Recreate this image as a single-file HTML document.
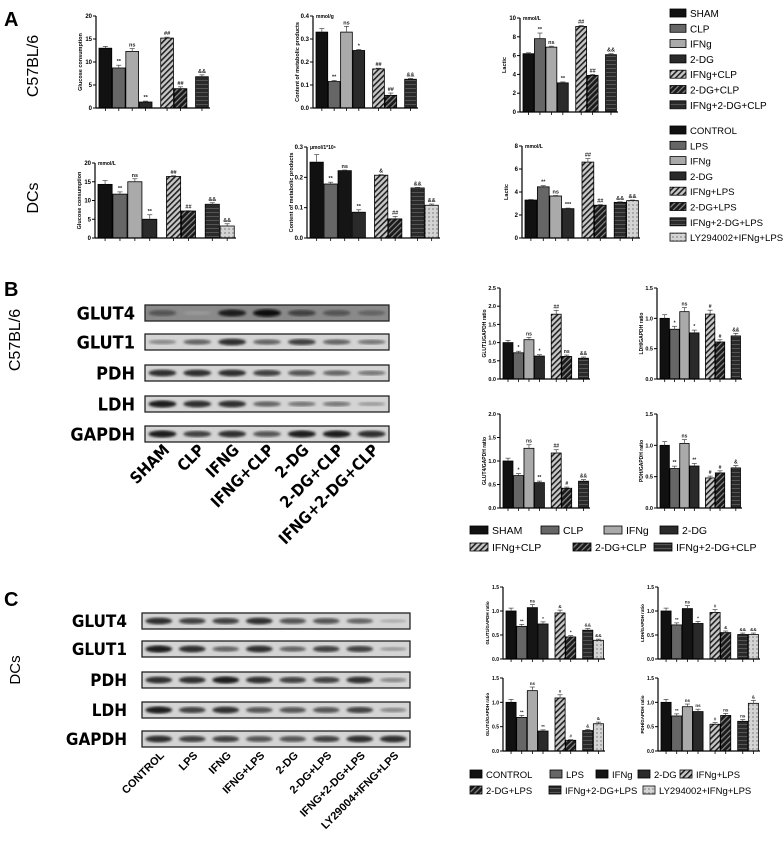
<!DOCTYPE html>
<html><head><meta charset="utf-8"><style>
html,body{margin:0;padding:0;background:#fff;}
svg{display:block;font-family:"Liberation Sans",sans-serif;}
</style></head><body>
<svg id="fig" width="784" height="848" viewBox="0 0 784 848">
<defs>
<pattern id="hL" patternUnits="userSpaceOnUse" width="4" height="4" patternTransform="rotate(45)"><rect width="4" height="4" fill="#c8c8c8"/><rect width="1.6" height="4" fill="#222"/></pattern>
<pattern id="hD" patternUnits="userSpaceOnUse" width="4" height="4" patternTransform="rotate(45)"><rect width="4" height="4" fill="#1a1a1a"/><rect width="1.2" height="4" fill="#888"/></pattern>
<pattern id="gD" patternUnits="userSpaceOnUse" width="4" height="4"><rect width="4" height="4" fill="#2a2a2a"/><rect width="4" height="1" fill="#555"/></pattern>
<pattern id="dL" patternUnits="userSpaceOnUse" width="4" height="4"><rect width="4" height="4" fill="#d4d4d4"/><rect width="2" height="2" fill="#aaa"/></pattern>
<filter id="blur"><feGaussianBlur stdDeviation="1.3"/></filter>
</defs>
<g id="root"></g>
</svg>
<script>
// ---------- data ----------
const c57Groups = ["SHAM","CLP","IFNg","2-DG","IFNg+CLP","2-DG+CLP","IFNg+2-DG+CLP"];
const dcGroups = ["CONTROL","LPS","IFNg","2-DG","IFNg+LPS","2-DG+LPS","IFNg+2-DG+LPS","LY294002+IFNg+LPS"];
const a1Values = [13.0, 8.7, 12.3, 1.3, 15.2, 4.2, 6.8];
const a1Err = [0.4, 0.6, 0.6, 0.2, 0.2, 0.4, 0.4];
const a1Sig = ["", "**", "ns", "**", "##", "##", "&&"];
const a1Ticks = [0, 5, 10, 15, 20];
const a2Values = [0.33, 0.115, 0.33, 0.25, 0.17, 0.055, 0.125];
const a2Err = [0.015, 0.005, 0.025, 0.005, 0.003, 0.01, 0.004];
const a2Sig = ["", "**", "ns", "*", "##", "##", "&&"];
const a2Ticks = [0, 0.1, 0.2, 0.3, 0.4];
const a3Values = [6.2, 7.8, 6.9, 3.1, 9.1, 3.9, 6.1];
const a3Err = [0.1, 0.6, 0.1, 0.1, 0.1, 0.1, 0.1];
const a3Sig = ["", "**", "ns", "**", "##", "##", "&&"];
const a3Ticks = [0, 2, 4, 6, 8, 10];
const a4Values = [14.3, 11.7, 15.0, 5.0, 16.4, 7.2, 9.0, 3.2];
const a4Err = [1.0, 0.6, 0.8, 1.2, 0.2, 0.1, 0.4, 0.6];
const a4Sig = ["", "**", "ns", "**", "##", "##", "&&", "&&"];
const a4Ticks = [0, 5, 10, 15, 20];
const a5Values = [0.25, 0.178, 0.222, 0.085, 0.207, 0.063, 0.165, 0.108];
const a5Err = [0.025, 0.006, 0.002, 0.008, 0.002, 0.008, 0.002, 0.004];
const a5Sig = ["", "**", "ns", "**", "&", "##", "&&", "&&"];
const a5Ticks = [0, 0.1, 0.2, 0.3];
const a6Values = [3.3, 4.45, 3.65, 2.55, 6.6, 2.85, 3.1, 3.25];
const a6Err = [0.05, 0.1, 0.05, 0.05, 0.3, 0.05, 0.05, 0.05];
const a6Sig = ["", "**", "ns", "***", "##", "##", "&&", "&&"];
const a6Ticks = [0, 2, 4, 6, 8];
const b1Values = [1.0, 0.72, 1.08, 0.63, 1.78, 0.62, 0.57];
const b1Sig = ["", "*", "ns", "*", "##", "ns", "&&"];
const b1Ticks = [0, 0.5, 1.0, 1.5, 2.0, 2.5];
const b2Values = [1.0, 0.82, 1.11, 0.76, 1.07, 0.61, 0.71];
const b2Sig = ["", "*", "ns", "*", "#", "#", "&&"];
const b2Ticks = [0, 0.5, 1.0, 1.5];
const b3Values = [1.0, 0.69, 1.27, 0.54, 1.17, 0.42, 0.57];
const b3Sig = ["", "*", "ns", "**", "##", "#", "&&"];
const b3Ticks = [0, 0.5, 1.0, 1.5, 2.0];
const b4Values = [1.0, 0.63, 1.03, 0.67, 0.48, 0.56, 0.64];
const b4Sig = ["", "**", "ns", "**", "#", "#", "&"];
const b4Ticks = [0, 0.5, 1.0, 1.5];
const c1Values = [1.0, 0.68, 1.07, 0.73, 0.96, 0.46, 0.60, 0.39];
const c1Sig = ["", "**", "ns", "*", "&", "*", "&&", "&&"];
const c2Values = [1.0, 0.71, 1.05, 0.74, 0.97, 0.55, 0.51, 0.51];
const c2Sig = ["", "**", "ns", "*", "#", "&", "&&", "&&"];
const c3Values = [1.0, 0.69, 1.24, 0.41, 1.09, 0.22, 0.42, 0.56];
const c3Sig = ["", "**", "ns", "**", "#", "#", "&", "&"];
const c4Values = [1.0, 0.72, 0.91, 0.81, 0.55, 0.73, 0.61, 0.98];
const c4Sig = ["", "**", "ns", "ns", "#", "ns", "ns", "&"];
const cTicks = [0, 0.5, 1.0, 1.5];
const bBlotRows = ["GLUT4","GLUT1","PDH","LDH","GAPDH"];
const bLanes = ["SHAM","CLP","IFNG","IFNG+CLP","2-DG","2-DG+CLP","IFNG+2-DG+CLP"];
const bBand = [[0.6,0.2,0.9,1.0,0.7,0.6,0.5],[0.3,0.5,0.8,0.5,0.7,0.5,0.4],[0.8,0.8,0.8,0.7,0.6,0.5,0.4],[0.9,0.8,0.8,0.5,0.4,0.4,0.2],[0.9,0.7,0.8,0.6,0.9,0.9,0.8]];
const cLanes = ["CONTROL","LPS","IFNG","IFNG+LPS","2-DG","2-DG+LPS","IFNG+2-DG+LPS","LY29004+IFNG+LPS"];
const cBand = [[0.8,0.7,0.7,0.8,0.6,0.6,0.5,0.1],[0.9,0.8,0.5,0.8,0.5,0.7,0.7,0.2],[0.8,0.8,0.9,0.8,0.7,0.7,0.8,0.3],[0.9,0.7,0.8,0.6,0.6,0.6,0.7,0.3],[0.8,0.7,0.7,0.6,0.6,0.7,0.8,0.8]];

// ---------- helpers ----------
const NS = "http://www.w3.org/2000/svg";
const root = document.getElementById("root");
function mk(tag, attrs, parent, txt) {
  const e = document.createElementNS(NS, tag);
  for (const k in attrs) e.setAttribute(k, attrs[k]);
  if (txt !== undefined) e.textContent = txt;
  (parent || root).appendChild(e);
  return e;
}
const c57Fill = ["#111","#666","#aaa","#2a2a2a","url(#hL)","url(#hD)","url(#gD)"];
const dcFill = ["#111","#666","#151515","#2a2a2a","url(#hL)","url(#hD)","url(#gD)","url(#dL)"];
const dcFillA = ["#111","#666","#aaa","#2a2a2a","url(#hL)","url(#hD)","url(#gD)","url(#dL)"];
const c57Slots = [0,1,2,3,4.6,5.6,7.2];
const dcSlots = [0,1,2,3,4.6,5.6,7.2,8.2];

function drawChart(name, x0, x1, yTop, yBot, values, errs, sig, ticks, fills, slots, ylabel, unit, fs) {
  const g = mk("g", {});
  
  
  const vmax = ticks[ticks.length - 1];
  const yS = v => yBot - (v / vmax) * (yBot - yTop);
  const step = (x1 - x0 - 4) / (slots[slots.length - 1] + 1);
  const bw = step * 0.95;
  values.forEach((v, i) => {
    const bx = x0 + 3 + slots[i] * step;
    const r = mk("rect", {x: bx, y: yS(v), width: bw, height: yBot - yS(v), fill: fills[i], stroke: "#000", "stroke-width": 0.8}, g);
    
    
    const e = errs ? errs[i] : v * 0.06;
    const cx = bx + bw / 2;
    mk("line", {x1: cx, x2: cx, y1: yS(v), y2: yS(v + e), stroke: "#444", "stroke-width": 0.7}, g);
    mk("line", {x1: cx - 2.5, x2: cx + 2.5, y1: yS(v + e), y2: yS(v + e), stroke: "#444", "stroke-width": 0.7}, g);
    if (sig[i]) {
      const t = mk("text", {x: cx, y: yS(v + e) - 2, "font-size": fs, "font-weight": "bold", "text-anchor": "middle", fill: "#222"}, g, sig[i]);
      
      
    }
    mk("line", {x1: cx, x2: cx, y1: yBot, y2: yBot + 3, stroke: "#000", "stroke-width": 0.8}, g);
  });
  mk("line", {x1: x0, x2: x0, y1: yTop, y2: yBot, stroke: "#000", "stroke-width": 1.2}, g);
  mk("line", {x1: x0, x2: x1, y1: yBot, y2: yBot, stroke: "#000", "stroke-width": 1.2}, g);
  ticks.forEach(t => {
    mk("line", {x1: x0 - 3, x2: x0, y1: yS(t), y2: yS(t), stroke: "#000", "stroke-width": 1}, g);
    const lab = mk("text", {x: x0 - 4, y: yS(t) + 2, "font-size": fs + 0.5, "font-weight": "bold", "text-anchor": "end"}, g, String(t % 1 === 0 && vmax <= 2.5 ? t.toFixed(1) : t));
    
    
  });
  const yl = mk("text", {x: 0, y: 0, "font-size": fs, "font-weight": "bold", "text-anchor": "middle", transform: `translate(${x0 - 14},${(yTop + yBot) / 2}) rotate(-90)`}, g, ylabel);
  
  
  if (unit) mk("text", {x: x0 + 3, y: yTop + 2, "font-size": fs - 0.5, "font-weight": "bold"}, g, unit);
}
function label(x, y, txt, size, name, extra) {
  const a = {x: x, y: y, "font-size": size, "font-weight": "bold"};
  Object.assign(a, extra || {});
  const t = mk("text", a, root, txt);
  
  
  return t;
}

// ---------- panel A ----------
label(4, 26, "A", 20, "panel-a-label");
label(0, 0, "C57BL/6", 16, "c57-row-label", {transform: "translate(38,66) rotate(-90)", "text-anchor": "middle", "font-weight": "normal"});
label(0, 0, "DCs", 16, "dcs-row-label", {transform: "translate(38,198) rotate(-90)", "text-anchor": "middle", "font-weight": "normal"});
drawChart("glucose-c57-chart", 96, 210, 16, 108, a1Values, a1Err, a1Sig, a1Ticks, c57Fill, c57Slots, "Glucose consumption", "", 5.5);
drawChart("metabolic-c57-chart", 313, 418, 16, 108, a2Values, a2Err, a2Sig, a2Ticks, c57Fill, c57Slots, "Content of metabolic products", "mmol/g", 5.5);
drawChart("lactic-c57-chart", 520, 618, 18, 112, a3Values, a3Err, a3Sig, a3Ticks, c57Fill, c57Slots, "Lactic", "mmol/L", 5.5);
drawChart("glucose-dc-chart", 95, 236, 163, 238, a4Values, a4Err, a4Sig, a4Ticks, dcFillA, dcSlots, "Glucose consumption", "mmol/L", 5.5);
drawChart("metabolic-dc-chart", 307, 440, 147, 238, a5Values, a5Err, a5Sig, a5Ticks, dcFill, dcSlots, "Content of metabolic products", "μmol/1*10⁶", 5.5);
drawChart("lactic-dc-chart", 522, 640, 146, 238, a6Values, a6Err, a6Sig, a6Ticks, dcFillA, dcSlots, "Lactic", "mmol/L", 5.5);

function legend(items, fills, x, y0, dy, w, name, fs) {
  const g = mk("g", {});
  
  
  items.forEach((it, i) => {
    const y = y0 + i * dy;
    mk("rect", {x: x, y: y - 4, width: w, height: 8, fill: fills[i], stroke: "#000", "stroke-width": 0.8}, g);
    const t = mk("text", {x: x + w + 4, y: y + 4, "font-size": fs}, g, it);
    
    
  });
}
legend(c57Groups, c57Fill, 670, 13, 15.3, 16, "legend-a-c57", 10);
legend(dcGroups, dcFillA, 670, 130, 15.3, 16, "legend-a-dc", 9.6);

// ---------- blots ----------
function blot(name, x0, x1, rows, rowYs, rowH, lanes, bands, labelX, labelSize, darkFirst) {
  const g = mk("g", {});
  
  
  const n = lanes.length;
  const lw = (x1 - x0) / n;
  rows.forEach((r, ri) => {
    const y = rowYs[ri];
    mk("rect", {x: x0, y: y, width: x1 - x0, height: rowH, fill: (darkFirst && ri === 0) ? "#8a8a8a" : "#d4d4d4", stroke: "#222", "stroke-width": 1.3}, g);
    bands[ri].forEach((b, li) => {
      const cx = x0 + lw * (li + 0.5);
      const shade = Math.round(190 - b * 180);
      const band = mk("ellipse", {cx: cx, cy: y + rowH / 2, rx: lw * 0.4, ry: 1.6 + b * 2.2, fill: `rgb(${shade},${shade},${shade})`, filter: "url(#blur)"}, g);
      
      
    });
    const t = mk("text", {x: labelX, y: y + rowH / 2 + labelSize * 0.36, "font-size": labelSize, "font-weight": "bold", "text-anchor": "end", "font-family": "DejaVu Sans Condensed, Liberation Sans, sans-serif"}, g, r);
    
    
  });
  return lw;
}
label(4, 296, "B", 20, "panel-b-label");
label(0, 0, "C57BL/6", 16, "b-row-label", {transform: "translate(20,340) rotate(-90)", "text-anchor": "middle", "font-weight": "normal"});
const bw1 = blot("blot-b", 145, 389, bBlotRows, [305, 334, 365, 396, 426], 16, bLanes, bBand, 135, 18, true);
bLanes.forEach((l, i) => {
  label(0, 0, l, 16, "lane-label", {"text-anchor": "end", transform: `translate(${145 + bw1 * (i + 0.5) + 8},${451}) rotate(-45)`, "font-family": "DejaVu Sans Condensed, Liberation Sans, sans-serif"});
});
label(4, 606, "C", 20, "panel-c-label");
label(0, 0, "DCs", 15, "c-row-label", {transform: "translate(20,670) rotate(-90)", "text-anchor": "middle", "font-weight": "normal"});
const bw2 = blot("blot-c", 142, 410, bBlotRows, [613, 641, 672, 702, 731], 16, cLanes, cBand, 127, 17, false);
cLanes.forEach((l, i) => {
  label(0, 0, l, 11, "lane-label", {"text-anchor": "end", transform: `translate(${142 + bw2 * (i + 0.5) + 6},${756}) rotate(-45)`});
});

// ---------- panel B charts ----------
drawChart("glut1-b-chart", 500, 590, 288, 379, b1Values, null, b1Sig, b1Ticks, c57Fill, c57Slots, "GLUT1/GAPDH ratio", "", 5);
drawChart("ldh-b-chart", 657, 742, 288, 379, b2Values, null, b2Sig, b2Ticks, c57Fill, c57Slots, "LDH/GAPDH ratio", "", 5);
drawChart("glut4-b-chart", 500, 590, 414, 508, b3Values, null, b3Sig, b3Ticks, c57Fill, c57Slots, "GLUT4/GAPDH ratio", "", 5);
drawChart("pdh-b-chart", 657, 742, 414, 508, b4Values, null, b4Sig, b4Ticks, c57Fill, c57Slots, "PDH/GAPDH ratio", "", 5);

function legendRow(items, fills, xs, y, w, fs, name) {
  items.forEach((it, i) => {
    const s = mk("rect", {x: xs[i], y: y - 4, width: w, height: 8, fill: fills[i], stroke: "#000", "stroke-width": 0.8});
    
    
    const t = mk("text", {x: xs[i] + w + 4, y: y + 4, "font-size": fs}, root, it);
    
    
  });
}
legendRow(["SHAM","CLP","IFNg","2-DG"], c57Fill.slice(0,4), [470, 541, 604, 660], 530, 18, 10.5, "legend-b");
legendRow(["IFNg+CLP","2-DG+CLP","IFNg+2-DG+CLP"], c57Fill.slice(4), [470, 573, 654], 547, 18, 10.5, "legend-b");

// ---------- panel C charts ----------
drawChart("glut1-c-chart", 503, 605, 587, 659, c1Values, null, c1Sig, cTicks, dcFill, dcSlots, "GLUT1/GAPDH ratio", "", 4.5);
drawChart("ldh-c-chart", 658, 760, 587, 659, c2Values, null, c2Sig, cTicks, dcFill, dcSlots, "LDH/GAPDH ratio", "", 4.5);
drawChart("glut4-c-chart", 503, 605, 678, 751, c3Values, null, c3Sig, cTicks, dcFillA, dcSlots, "GLUT4/GAPDH ratio", "", 4.5);
drawChart("pdh-c-chart", 658, 760, 678, 751, c4Values, null, c4Sig, cTicks, dcFillA, dcSlots, "PDH/GAPDH ratio", "", 4.5);
legendRow(["CONTROL","LPS","IFNg","2-DG","IFNg+LPS"], dcFill.slice(0,5), [470, 550, 596, 638, 680], 774, 12, 9.5, "legend-c");
legendRow(["2-DG+LPS","IFNg+2-DG+LPS","LY294002+IFNg+LPS"], dcFill.slice(5), [470, 549, 643], 790, 12, 9.5, "legend-c");
</script>
</body></html>
